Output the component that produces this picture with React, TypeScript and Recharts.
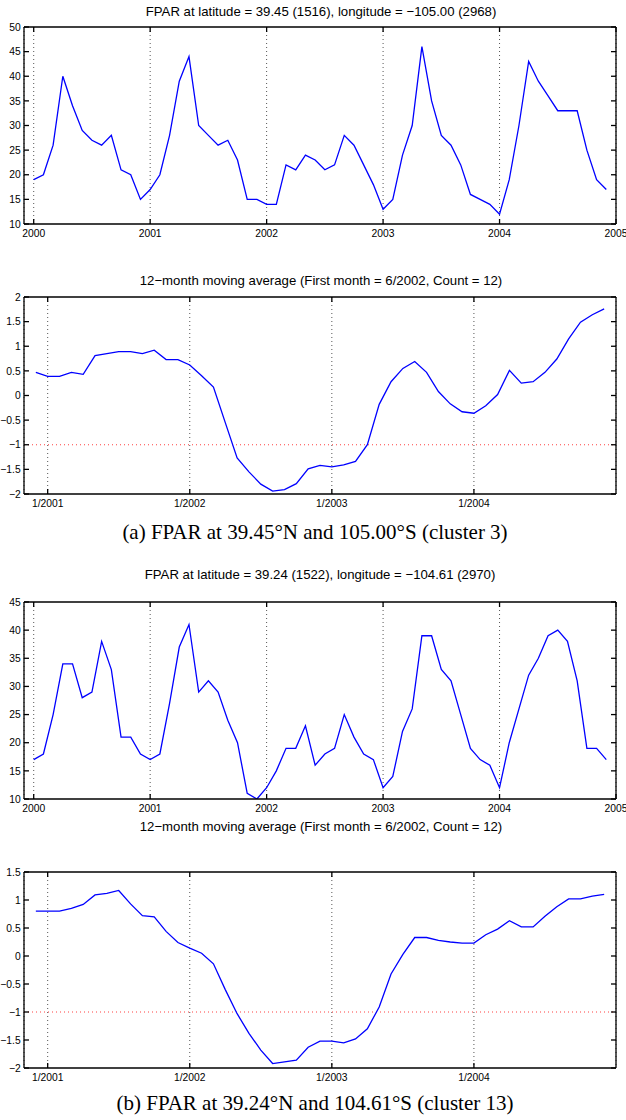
import React from 'react';
import { LineChart, Line, XAxis, YAxis, CartesianGrid, ReferenceLine } from 'recharts';

// Monthly FPAR, Jan 2000 .. Dec 2004 (cluster 3)
const fparCluster3: number[] = [
  19, 20, 26, 40, 34, 29, 27, 26, 28, 21, 20, 15,
  17, 20, 28, 39, 44, 30, 28, 26, 27, 23, 15, 15,
  14, 14, 22, 21, 24, 23, 21, 22, 28, 26, 22, 18,
  13, 15, 24, 30, 46, 35, 28, 26, 22, 16, 15, 14,
  12, 19, 30, 43, 39, 36, 33, 33, 33, 25, 19, 17,
];

// 12-month moving average, Dec 2000 .. Dec 2004 (cluster 3)
const maCluster3: number[] = [
  0.47, 0.39, 0.39, 0.47, 0.43, 0.81, 0.85, 0.89, 0.89, 0.85, 0.92, 0.73, 0.73,
  0.62, 0.40, 0.17, -0.55, -1.27, -1.55, -1.80, -1.94, -1.91, -1.79, -1.49, -1.42,
  -1.45, -1.41, -1.34, -1.00, -0.18, 0.28, 0.55, 0.69, 0.47, 0.08, -0.17, -0.33,
  -0.36, -0.21, 0.02, 0.51, 0.25, 0.28, 0.47, 0.74, 1.15, 1.49, 1.64, 1.76,
];

// Monthly FPAR, Jan 2000 .. Dec 2004 (cluster 13)
const fparCluster13: number[] = [
  17, 18, 25, 34, 34, 28, 29, 38, 33, 21, 21, 18,
  17, 18, 27, 37, 41, 29, 31, 29, 24, 20, 11, 10,
  12, 15, 19, 19, 23, 16, 18, 19, 25, 21, 18, 17,
  12, 14, 22, 26, 39, 39, 33, 31, 25, 19, 17, 16,
  12, 20, 26, 32, 35, 39, 40, 38, 31, 19, 19, 17,
];

// 12-month moving average, Dec 2000 .. Dec 2004 (cluster 13)
const maCluster13: number[] = [
  0.80, 0.80, 0.80, 0.85, 0.92, 1.09, 1.12, 1.17, 0.93, 0.72, 0.70, 0.44, 0.24,
  0.14, 0.05, -0.14, -0.60, -1.03, -1.38, -1.68, -1.92, -1.89, -1.86, -1.63, -1.52,
  -1.52, -1.55, -1.48, -1.30, -0.91, -0.32, 0.03, 0.33, 0.33, 0.28, 0.25, 0.23,
  0.23, 0.38, 0.48, 0.63, 0.52, 0.52, 0.71, 0.88, 1.02, 1.02, 1.07, 1.10,
];

const yearTickLabels: string[] = ['2000', '2001', '2002', '2003', '2004', '2005'];
const yearTickMonths: number[] = [0, 12, 24, 36, 48, 60];
const maTickLabels: string[] = ['1/2001', '1/2002', '1/2003', '1/2004'];
const maTickMonths: number[] = [0, 12, 24, 36];

const fparTicksA: number[] = [10, 15, 20, 25, 30, 35, 40, 45, 50];
const fparTicksB: number[] = [10, 15, 20, 25, 30, 35, 40, 45];
const maTicksA: number[] = [-2, -1.5, -1, -0.5, 0, 0.5, 1, 1.5, 2];
const maTicksB: number[] = [-2, -1.5, -1, -0.5, 0, 0.5, 1, 1.5];

const titleA = 'FPAR at latitude = 39.45 (1516), longitude = \u2212105.00 (2968)';
const titleB = 'FPAR at latitude = 39.24 (1522), longitude = \u2212104.61 (2970)';
const maTitle = '12\u2212month moving average (First month = 6/2002, Count = 12)';
const captionA = '(a) FPAR at 39.45\u00b0N and 105.00\u00b0S (cluster 3)';
const captionB = '(b) FPAR at 39.24\u00b0N and 104.61\u00b0S (cluster 13)';

const toRows = (values: number[], firstMonth: number) =>
  values.map((v, i) => ({ x: firstMonth + i, v }));

const fmtY = (v: number) => String(v).replace('-', '\u2212');

const SANS = '"Liberation Sans", Arial, Helvetica, sans-serif';
const SERIF = '"Liberation Serif", "Times New Roman", serif';

type PanelProps = {
  top: number;
  height: number;
  rows: { x: number; v: number }[];
  xDomain: [number, number];
  xTicks: number[];
  xLabels: string[];
  yDomain: [number, number];
  yTicks: number[];
  threshold?: number;
};

function Panel({ top, height, rows, xDomain, xTicks, xLabels, yDomain, yTicks, threshold }: PanelProps) {
  const xFmt = (v: number) => {
    const k = xTicks.indexOf(v);
    return k >= 0 ? xLabels[k] : '';
  };
  const tickStyle = { fill: '#000', fontSize: 10.3, fontFamily: SANS };
  return (
    <div style={{ position: 'absolute', left: 0, top, width: 626, height, fontFamily: SANS }}>
      <LineChart width={626} height={height} data={rows} margin={{ top: 26, right: 0, bottom: 0, left: 0 }}>
        <CartesianGrid horizontal={false} stroke="#555" strokeDasharray="1 3" strokeWidth={1} />
        <XAxis
          dataKey="x"
          type="number"
          domain={xDomain}
          ticks={xTicks}
          interval={0}
          allowDataOverflow
          tickFormatter={xFmt}
          height={20}
          tickSize={-5}
          tickMargin={10.5}
          stroke="#000"
          strokeWidth={1.3}
          tick={tickStyle}
        />
        <XAxis
          xAxisId="top"
          orientation="top"
          dataKey="x"
          type="number"
          domain={xDomain}
          ticks={xTicks}
          interval={0}
          allowDataOverflow
          tickFormatter={() => ''}
          height={1}
          tickSize={-5}
          stroke="#000"
          strokeWidth={1.3}
        />
        <YAxis
          type="number"
          domain={yDomain}
          ticks={yTicks}
          interval={0}
          allowDataOverflow
          width={24}
          tickSize={-5}
          tickMargin={8.3}
          tickFormatter={fmtY}
          stroke="#000"
          strokeWidth={1.3}
          tick={tickStyle}
        />
        <YAxis
          yAxisId="r"
          orientation="right"
          type="number"
          domain={yDomain}
          ticks={yTicks}
          interval={0}
          allowDataOverflow
          width={10}
          tickSize={-5}
          tickFormatter={() => ''}
          stroke="#000"
          strokeWidth={1.3}
        />
        {threshold !== undefined && (
          <ReferenceLine y={threshold} stroke="#ff4040" strokeDasharray="1 3" strokeWidth={1} />
        )}
        <Line
          type="linear"
          dataKey="v"
          stroke="#0000ff"
          strokeWidth={1.3}
          dot={false}
          activeDot={false}
          isAnimationActive={false}
        />
      </LineChart>
    </div>
  );
}

function Label({ text, cy, cx, size, family }: { text: string; cy: number; cx: number; size: number; family: string }) {
  const h = 30;
  return (
    <div
      style={{
        position: 'absolute',
        left: cx - 313,
        top: cy - h / 2,
        width: 626,
        height: h,
        lineHeight: `${h}px`,
        textAlign: 'center',
        fontSize: size,
        fontFamily: family,
        color: '#000',
        whiteSpace: 'nowrap',
      }}
    >
      {text}
    </div>
  );
}

export default function App() {
  return (
    <div style={{ position: 'absolute', left: 0, top: 0, width: 626, height: 1120, background: '#fff', overflow: 'hidden' }}>
      <Label text={titleA} cy={12} cx={321} size={13.2} family={SANS} />
      <Panel
        top={0}
        height={244}
        rows={toRows(fparCluster3, 0)}
        xDomain={[-1, 60]}
        xTicks={yearTickMonths}
        xLabels={yearTickLabels}
        yDomain={[10, 50]}
        yTicks={fparTicksA}
      />
      <Label text={maTitle} cy={281} cx={321} size={13.2} family={SANS} />
      <Panel
        top={270}
        height={244}
        rows={toRows(maCluster3, -1)}
        xDomain={[-2, 48]}
        xTicks={maTickMonths}
        xLabels={maTickLabels}
        yDomain={[-2, 2]}
        yTicks={maTicksA}
        threshold={-1}
      />
      <Label text={captionA} cy={532} cx={315} size={21} family={SERIF} />
      <Label text={titleB} cy={575} cx={320} size={13.2} family={SANS} />
      <Panel
        top={575}
        height={244}
        rows={toRows(fparCluster13, 0)}
        xDomain={[-1, 60]}
        xTicks={yearTickMonths}
        xLabels={yearTickLabels}
        yDomain={[10, 45]}
        yTicks={fparTicksB}
      />
      <Label text={maTitle} cy={827} cx={321} size={13.2} family={SANS} />
      <Panel
        top={845}
        height={243}
        rows={toRows(maCluster13, -1)}
        xDomain={[-2, 48]}
        xTicks={maTickMonths}
        xLabels={maTickLabels}
        yDomain={[-2, 1.5]}
        yTicks={maTicksB}
        threshold={-1}
      />
      <Label text={captionB} cy={1103} cx={315} size={21} family={SERIF} />
    </div>
  );
}
